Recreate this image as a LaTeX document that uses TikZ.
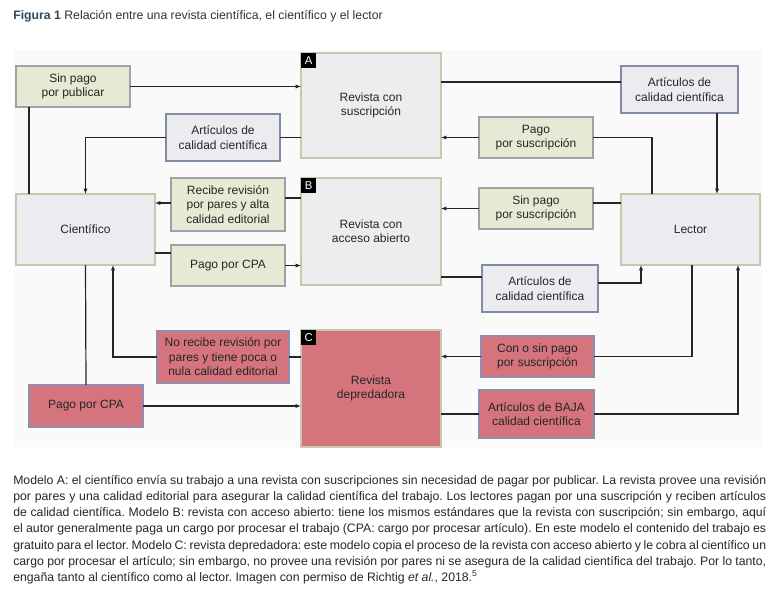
\documentclass[tikz,border=0pt]{standalone}
\usepackage{fontspec}
\setmainfont{Liberation Sans}
\usetikzlibrary{arrows.meta}
\definecolor{grnfill}{HTML}{E4EAD4}
\definecolor{grnline}{HTML}{9EA3A6}
\definecolor{gryfill}{HTML}{EBEBF0}
\definecolor{gryline}{HTML}{7F8CA3}
\definecolor{bigfill}{HTML}{EDEDF0}
\definecolor{bigline}{HTML}{C6C9AE}
\definecolor{redfill}{HTML}{D5747C}
\definecolor{redline}{HTML}{8E8EAE}
\definecolor{titlecol}{HTML}{2B4B5B}
\newcommand\px{0.75pt}
\tikzset{
  base/.style={draw, line width=1.1pt, align=center, inner sep=0pt, outer sep=0pt,
    font=\fontsize{9}{10.8}\selectfont, text=black!85},
  grnbox/.style={base, fill=grnfill, draw=grnline},
  grybox/.style={base, fill=gryfill, draw=gryline},
  bigbox/.style={base, fill=bigfill, draw=bigline},
  redbox/.style={base, fill=redfill, draw=redline},
  tag/.style={fill=black, text=white, minimum size=15*\px, inner sep=0pt,
    font=\fontsize{8.5}{9}\selectfont, anchor=north west},
  flow/.style={line width=0.9pt, black!85},
  flowto/.style={flow, -{Latex[length=4pt,width=3.2pt]}}
}
\begin{document}
\begin{tikzpicture}[x=\px, y=-\px]
  \useasboundingbox (0,0) rectangle (776,603);
  \fill[black!2] (14,50) rectangle (762,447);
  \node[anchor=west, inner sep=0pt, font=\fontsize{9.2}{11}\selectfont, text=black!80] (title) at (13,16)
    {\textcolor{titlecol}{\textbf{Figura 1}} Relación entre una revista científica, el científico y el lector};

  % journals
  \node[bigbox, minimum width=140*\px, minimum height=105*\px] (revA) at (371,105.5) {Revista con\\suscripción};
  \node[bigbox, minimum width=140*\px, minimum height=107*\px] (revB) at (371,231.5) {Revista con\\acceso abierto};
  \node[redbox, draw=bigline, minimum width=140*\px, minimum height=117*\px] (revC) at (371,388.5) {Revista\\depredadora};
  \foreach \rev/\letter in {revA/A, revB/B, revC/C}
    \node[tag] (tag\letter) at (\rev.north west) {\letter};

  % actors
  \node[grybox, draw=bigline, minimum width=139*\px, minimum height=71*\px] (cien) at (85.5,229.5) {Científico};
  \node[grybox, draw=bigline, minimum width=139*\px, minimum height=71*\px] (lector) at (690.5,229.5) {Lector};

  % left side
  \node[grnbox, minimum width=114*\px, minimum height=41*\px] (sinpub) at (73,86.5) {Sin pago\\por publicar};
  \node[grybox, minimum width=114*\px, minimum height=47*\px] (artL) at (223,137.5) {Artículos de\\calidad científica};
  \node[grnbox, minimum width=114*\px, minimum height=53*\px] (recibe) at (228,204.5) {Recibe revisión\\por pares y alta\\calidad editorial};
  \node[grnbox, minimum width=114*\px, minimum height=41*\px] (cpaB) at (228,265.5) {Pago por CPA};
  \node[redbox, minimum width=132*\px, minimum height=52*\px] (norec) at (223,357) {No recibe revisión por\\pares y tiene poca o\\nula calidad editorial};
  \node[redbox, minimum width=114*\px, minimum height=42*\px] (cpaC) at (86,406) {Pago por CPA};

  % right side
  \node[grybox, minimum width=117*\px, minimum height=47*\px] (artR) at (679.5,89.5) {Artículos de\\calidad científica};
  \node[grnbox, minimum width=114*\px, minimum height=41*\px] (pagosus) at (536,137.5) {Pago\\por suscripción};
  \node[grnbox, minimum width=114*\px, minimum height=41*\px] (sinsus) at (536,208.5) {Sin pago\\por suscripción};
  \node[grybox, minimum width=116*\px, minimum height=47*\px] (artM) at (540,288.5) {Artículos de\\calidad científica};
  \node[redbox, minimum width=113*\px, minimum height=41*\px] (consin) at (537.5,356.5) {Con o sin pago\\por suscripción};
  \node[redbox, minimum width=115*\px, minimum height=48*\px] (baja) at (536.5,414) {Artículos de BAJA\\calidad científica};

  % model A
  \draw[flowto] (sinpub.east) -- (revA.west |- sinpub.east);
  \draw[flow] (sinpub.south -| 29,0) -- (cien.north -| 29,0);
  \draw[flow] (revA.west |- artL.east) -- (artL.east);
  \draw[flowto] (artL.west) -| (cien.north);
  \draw[flow] (revA.east |- 0,82) -- (artR.west |- 0,82);
  \draw[flowto] (artR.south -| 717,0) -- (lector.north -| 717,0);
  \draw[flow] (lector.north -| 652,0) |- (pagosus.east);
  \draw[flowto] (pagosus.west) -- (revA.east |- pagosus.west);

  % model B
  \draw[flow] (revB.west |- 0,198) -- (recibe.east |- 0,198);
  \draw[flowto] (recibe.west |- 0,203) -- (cien.east |- 0,203);
  \draw[flow] (cien.east |- 0,253) -- (cpaB.west |- 0,253);
  \draw[flowto] (cpaB.east) -- (revB.west |- cpaB.east);
  \draw[flow] (lector.west |- 0,203) -- (sinsus.east |- 0,203);
  \draw[flowto] (sinsus.west) -- (revB.east |- sinsus.west);
  \draw[flow] (revB.east |- 0,277) -- (artM.west |- 0,277);
  \draw[flowto] (artM.east |- 0,283) -| (lector.south -| 641,0);

  % model C
  \draw[flow] (cien.south) -- (cpaC.north);
  \draw[flowto] (cpaC.east) -- (revC.west |- cpaC.east);
  \draw[flow] (revC.west |- norec.east) -- (norec.east);
  \draw[flowto] (norec.west) -| (cien.south -| 113,0);
  \draw[flow] (lector.south -| 692,0) |- (consin.east);
  \draw[flowto] (consin.west) -- (revC.east |- consin.west);
  \draw[flow] (revC.east |- baja.west) -- (baja.west);
  \draw[flowto] (baja.east) -| (lector.south -| 738,0);

  \node[anchor=north west, inner sep=0pt, text=black!85, align=justify,
    text width=753*\px, font=\fontsize{9.2}{12.15}\selectfont\frenchspacing] (caption) at (13,475)
    {Modelo A: el científico envía su trabajo a una revista con suscripciones sin necesidad de pagar por publicar. La revista provee una revisión\linebreak
     por pares y una calidad editorial para asegurar la calidad científica del trabajo. Los lectores pagan por una suscripción y reciben artículos\linebreak
     de calidad científica. Modelo B: revista con acceso abierto: tiene los mismos estándares que la revista con suscripción; sin embargo, aquí\linebreak
     el autor generalmente paga un cargo por procesar el trabajo (CPA: cargo por procesar artículo). En este modelo el contenido del trabajo es\linebreak
     gratuito para el lector. Modelo C: revista depredadora: este modelo copia el proceso de la revista con acceso abierto y le cobra al científico un\linebreak
     cargo por procesar el artículo; sin embargo, no provee una revisión por pares ni se asegura de la calidad científica del trabajo. Por lo tanto,\linebreak
     engaña tanto al científico como al lector. Imagen con permiso de Richtig \textit{et al.}, 2018.\textsuperscript{5}};
\end{tikzpicture}
\end{document}
